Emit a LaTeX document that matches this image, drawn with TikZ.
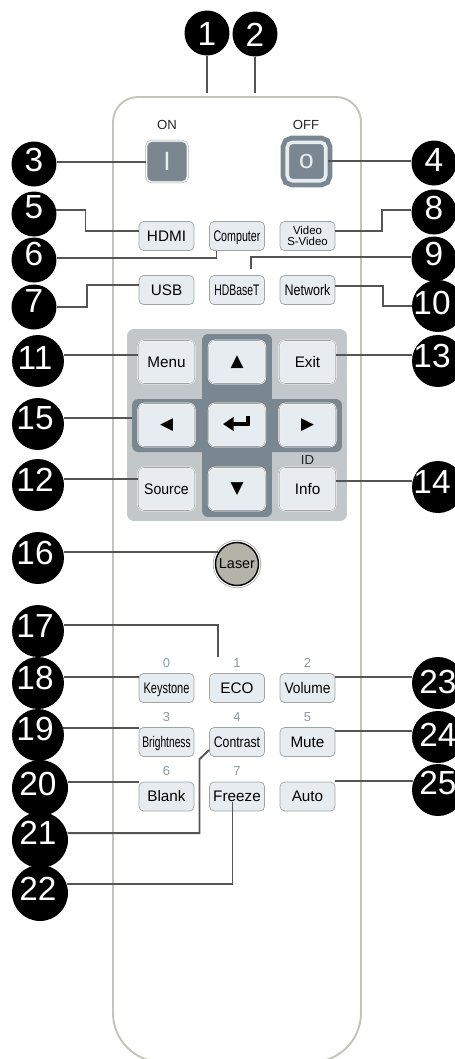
\documentclass[tikz,border=0pt]{standalone}
\usepackage{graphicx}
\usepackage{fontspec}
\setmainfont{Liberation Sans}
\newfontfamily\symbfont{DejaVu Sans}
\usetikzlibrary{arrows.meta}
\definecolor{bodyline}{HTML}{C3C4BC}
\definecolor{slate}{HTML}{7A8790}
\definecolor{padgray}{HTML}{C2C7CA}
\definecolor{btnfill}{HTML}{E6ECEF}
\definecolor{btnline}{HTML}{A2A4A4}
\definecolor{leadgray}{HTML}{555555}
\definecolor{hintgray}{HTML}{8E99A1}
\definecolor{lasergray}{HTML}{B3B3A9}
\newcommand{\narrow}[2]{\scalebox{#1}[1]{#2}}
\newcommand{\nudge}[2]{\makebox[0pt]{#2\kern#1pt}}
\begin{document}
\begin{tikzpicture}[x=0.02cm, y=-0.02cm,
  num/.style={circle, fill=black, text=white, inner sep=0pt, minimum size=0.9cm,
              font=\fontsize{19}{19}\selectfont, text height=13.7pt, text depth=#1*0.4mm},
  wide/.style={minimum size=1.04cm},
  wider/.style={minimum size=1.12cm},
  smallbtn/.style={draw=btnline, line width=0.4pt, rounded corners=2.6pt, fill=btnfill,
                   inner sep=0pt, minimum width=1.1cm, minimum height=0.58cm,
                   font=\fontsize{8.7}{9}\selectfont, text height=6.2pt, text depth=0pt},
  padbtn/.style={smallbtn, draw=white, line width=0.3pt, double=btnline, double distance=0.3pt,
                 rounded corners=3.4pt, minimum width=1.13cm, minimum height=0.86cm},
  arrowbtn/.style={padbtn, font=\symbfont\fontsize{9.6}{10}\selectfont, text height=, text depth=},
  tag/.style={inner sep=0pt, text=black!85, font=\fontsize{7.5}{8}\selectfont},
  hint/.style={inner sep=0pt, text=hintgray, font=\fontsize{7.4}{8}\selectfont},
  lead/.style={draw=leadgray, line width=1.05pt},
  thinlead/.style={draw=leadgray, line width=0.75pt}
]
  \useasboundingbox (0,0) rectangle (455,1059);
  \clip (0,0) rectangle (455,1059);
  % Remote body
  \draw[draw=bodyline, line width=1.1pt] (113,122) arc[start angle=180, end angle=270, radius=25]
    -- (336,97) arc[start angle=270, end angle=360, radius=25]
    -- (361,1013) arc[start angle=0, end angle=90, radius=49]
    -- (162,1062) arc[start angle=90, end angle=180, radius=49] -- cycle;
  % Power buttons
  \node[tag] (ontag)  at (167,125) {ON};
  \node[tag] (offtag) at (306,125) {OFF};
  \node[draw=btnline, line width=0.3pt, double=white, double distance=0.7pt, fill=slate,
        rounded corners=3pt, inner sep=0pt, minimum size=0.82cm, text=btnfill,
        font=\fontsize{15}{15}\selectfont] (on) at (167,161.5) {I};
  \node[draw=slate, line width=2.8pt, double=btnfill, double distance=2pt, fill=slate,
        rounded corners=3pt, inner sep=0pt, minimum size=0.77cm, text=btnfill,
        font=\fontsize{15}{15}\selectfont] (off) at (306.5,161.5) {o};
  % Source buttons
  \node[smallbtn] (hdmi)     at (166.5,236) {HDMI};
  \node[smallbtn] (computer) at (237,236)   {\narrow{0.7}{Computer}};
  \node[smallbtn, align=center, text height=, text depth=,
        font=\fontsize{6.5}{6.6}\selectfont] (video) at (307.5,236) {Video\\S-Video};
  \node[smallbtn] (usb)      at (166.5,290) {USB};
  \node[smallbtn] (hdbaset)  at (237,290)   {\narrow{0.68}{HDBaseT}};
  \node[smallbtn] (network)  at (307.5,290) {\narrow{0.82}{Network}};
  % Keypad
  \node[fill=padgray, rounded corners=4pt, minimum width=4.4cm, minimum height=3.84cm, inner sep=0pt] (pad) at (237,425) {};
  \node[fill=slate, rounded corners=3.5pt, minimum width=1.4cm, minimum height=3.66cm, inner sep=0pt] (vbar) at (237,425.5) {};
  \node[fill=slate, rounded corners=3.5pt, minimum width=4.2cm, minimum height=1.06cm, inner sep=0pt] (hbar) at (237,425.5) {};
  \node[padbtn] (menu)   at (166.5,362) {Menu};
  \node[arrowbtn] (up)   at (237,362)   {▲};
  \node[padbtn] (exit)   at (307.5,362) {Exit};
  \node[arrowbtn] (left) at (166.5,425) {◀};
  \node[padbtn] (enter)  at (237,425)   {};
  \node[arrowbtn] (right) at (307.5,425) {▶};
  \node[padbtn] (source) at (166.5,489) {\narrow{0.92}{Source}};
  \node[arrowbtn] (down) at (237,489)   {▼};
  \node[padbtn] (info)   at (307.5,489) {Info};
  \node[tag] (idtag)     at (307.5,460) {ID};
  \draw[line width=1.9pt, -{Triangle[length=6pt, width=7.5pt]}] ([shift={(11,-9)}]enter.center) -- ++(0,8) -- ++(-25,0);
  % Laser
  \node[circle, draw=black, line width=0.8pt, fill=lasergray, inner sep=0pt, minimum size=0.86cm,
        preaction={draw=btnline, line width=3pt}, preaction={draw=white, line width=2.2pt},
        font=\fontsize{8.2}{9}\selectfont] (laser) at (237,564) {Laser};
  % Number pad
  \node[hint] (h0) at (166.5,663) {0};
  \node[hint] (h1) at (237,663)   {1};
  \node[hint] (h2) at (307.5,663) {2};
  \node[hint] (h3) at (166.5,717) {3};
  \node[hint] (h4) at (237,717)   {4};
  \node[hint] (h5) at (307.5,717) {5};
  \node[hint] (h6) at (166.5,771) {6};
  \node[hint] (h7) at (237,771)   {7};
  \node[smallbtn] (keystone)   at (166.5,688)   {\narrow{0.72}{Keystone}};
  \node[smallbtn] (eco)        at (237,688)     {ECO};
  \node[smallbtn] (volume)     at (307.5,688)   {\narrow{0.9}{Volume}};
  \node[smallbtn] (brightness) at (166.5,742)   {\narrow{0.67}{Brightness}};
  \node[smallbtn] (contrast)   at (237,742)     {\narrow{0.8}{Contrast}};
  \node[smallbtn] (mute)       at (307.5,742)   {Mute};
  \node[smallbtn] (blank)      at (166.5,796.5) {Blank};
  \node[smallbtn] (freeze)     at (237,796.5)   {Freeze};
  \node[smallbtn] (auto)       at (307.5,796.5) {Auto};
  % Callouts
  \node[num=0] (n1) at (207,33) {1};
  \node[num=0] (n2) at (255,34) {2};
  \node[num=5] (n3) at (34,164) {3};
  \node[num=4] (n4) at (434,163) {4};
  \node[num=8] (n5) at (34,214) {5};
  \node[num=7] (n6) at (34,260) {6};
  \node[num=7] (n7) at (34,307) {7};
  \node[num=5] (n8) at (434,212) {8};
  \node[num=6] (n9) at (434,259) {9};
  \node[num=4, wide] (n10) at (438,306) {\nudge{6.8}{10}};
  \node[num=4, wide] (n11) at (38,361) {\nudge{3.4}{11}};
  \node[num=6, wide] (n12) at (38,485) {\nudge{3.4}{12}};
  \node[num=6, wide] (n13) at (438,361) {\nudge{6.8}{13}};
  \node[num=6, wide] (n14) at (438,487) {\nudge{6.8}{14}};
  \node[num=7, wide] (n15) at (38,424) {\nudge{3.4}{15}};
  \node[num=6, wide] (n16) at (38,558) {\nudge{3.4}{16}};
  \node[num=6, wide] (n17) at (38,631) {\nudge{3.4}{17}};
  \node[num=6, wide] (n18) at (38,683) {\nudge{3.4}{18}};
  \node[num=7, wide] (n19) at (38,735) {\nudge{3.4}{19}};
  \node[num=5, wider] (n20) at (40,788) {\nudge{2.3}{20}};
  \node[num=8, wider] (n21) at (40,840) {\nudge{2.3}{21}};
  \node[num=5, wider] (n22) at (40,893) {\nudge{2.3}{22}};
  \node[num=2, wide] (n23) at (438,683) {\nudge{0}{23}};
  \node[num=3, wide] (n24) at (438,737) {\nudge{0}{24}};
  \node[num=8, wide] (n25) at (438,790) {\nudge{0}{25}};
  % Free ends
  \coordinate (top1) at (207,93);
  \coordinate (top2) at (255,93);
  \coordinate (eco1) at (218,657);
  \coordinate (frz)  at (232.5,802);
  % Leads
  \draw[thinlead] (n1) -- (top1);
  \draw[thinlead] (n2) -- (top2);
  \draw[lead] (n3.5)    -- (on.west |- n3.5);
  \draw[lead] (n4.175)  -- (off.east |- n4.175);
  \draw[lead] (n5.10)   -- ++(29,0) |- (hdmi.170);
  \draw[thinlead] (n6.5) -| (computer.-144);
  \draw[lead] (n7.east) -- ++(30,0) |- (usb.170);
  \draw[lead] (n8.175)  -- ++(-29,0) |- (video.10);
  \draw[lead, shorten >=0.12cm] (n9.175) -| (hdbaset.46);
  \draw[lead] (n10.180) -- ++(-29,0) |- (network.9);
  \draw[lead] (n11.13)  -- (menu.west |- n11.13);
  \draw[lead] (n12.13)  -- (source.west |- n12.13);
  \draw[lead] (n13.167) -- (exit.east |- n13.167);
  \draw[lead] (n14.167) -- (info.east |- n14.167);
  \draw[lead] (n15.13)  -- (hbar.west |- n15.13);
  \draw[lead] (n16.13)  -- (laser.150 |- n16.13);
  \draw[lead] (n17.13)  -| (eco1);
  \draw[lead] (n18.13)  -- (keystone.west |- n18.13);
  \draw[lead] (n19.16)  -- (brightness.west |- n19.16);
  \draw[lead] (n20.12)  -- (blank.west |- n20.12);
  \draw[lead] (n21.14)  -- ++(132,0) -- ++(0,-74) -- (contrast.196);
  \draw[lead] (n22.19)  -| (frz);
  \draw[lead] (n23.167) -- (volume.east |- n23.167);
  \draw[lead] (n24.167) -- (mute.east |- n24.167);
  \draw[lead] (n25.160) -- (auto.east |- n25.160);
\end{tikzpicture}
\end{document}
